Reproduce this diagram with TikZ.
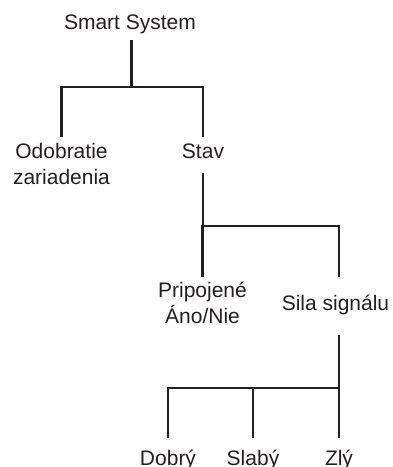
\documentclass[tikz,border=0pt]{standalone}
\usepackage{fontspec}
\setmainfont{Liberation Sans}
\usetikzlibrary{positioning}

\definecolor{treeink}{HTML}{231F20}

\tikzset{
  item/.style={font=\fontsize{21}{26.5}\selectfont, text=treeink, inner sep=0pt, align=center, anchor=base},
  branch/.style={line width=2.2pt, draw=treeink},
}

\begin{document}
\begin{tikzpicture}[x=1pt,y=-1pt]
        \useasboundingbox (0,0) rectangle (393,467);

        % ==========================================
        % Root
        % ==========================================
        \node[item] (sys) at (130,29.5) {Smart System};

        % ==========================================
        % First level
        % ==========================================
        % (base of a two-line node = its last line)
        \node[item] (odo) at (61.5,184.5) {Odobratie\\zariadenia};
        \node[item] (stav) at (203,158) {Stav};

        \draw[branch] ([xshift=1.5pt,yshift=-10.5pt]sys.base) -- ++(0,47) coordinate (j1);
        \draw[branch] (j1) -| ([yshift=47.5pt]odo.base);
        \draw[branch] (j1) -| ([yshift=21pt]stav.base);

        % ==========================================
        % Second level (under Stav)
        % ==========================================
        \node[item] (prip) at (202.5,323.5) {Pripojené\\Áno/Nie};
        \node[item] (sila) at (335.5,310) {Sila signálu};

        \draw[branch] ([yshift=-15pt]stav.base) -- ++(0,53) coordinate (j2);
        \draw[branch] (j2) -| ([yshift=46.5pt]prip.base);
        \draw[branch] (j2) -| ([xshift=3.5pt,yshift=33pt]sila.base);

        % ==========================================
        % Third level (under Sila signalu)
        % ==========================================
        \node[item] (dob) at (168,465) {Dobrý};
        \node[item] (slab) at (253,465) {Slabý};
        \node[item] (zly) at (339,465) {Zlý};

        \draw[branch] ([xshift=3.5pt,yshift=-25pt]sila.base) -- ++(0,53) coordinate (j3);
        \draw[branch] (j3) -| ([yshift=27pt]dob.base);
        \draw[branch] (j3) -| ([yshift=27pt]slab.base);
        \draw[branch] (j3) -- ([yshift=27pt]zly.base);

    \end{tikzpicture}
\end{document}
